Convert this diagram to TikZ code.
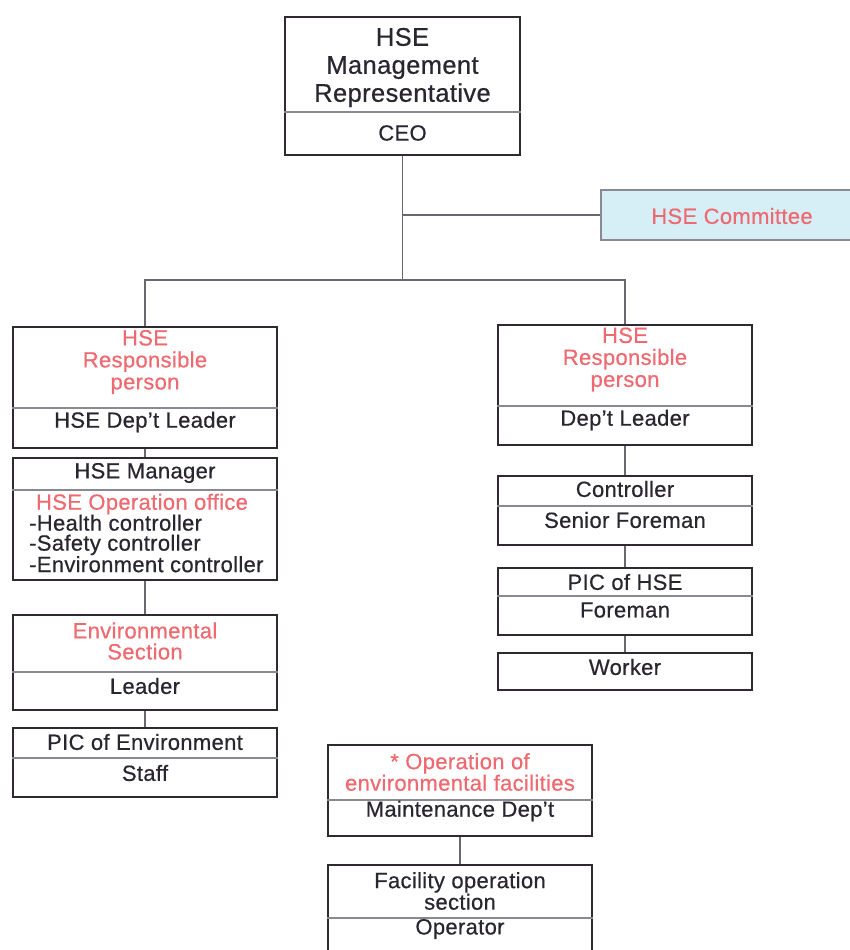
\documentclass[tikz,border=0pt]{standalone}
\usepackage{fontspec}
\setmainfont{Liberation Sans}[LetterSpace=1.5,FakeBold=0.5]
\begin{document}
\begin{tikzpicture}[x=1pt,y=-1pt,
  box/.style={draw=boxline,line width=2.8pt,rectangle,inner sep=0pt},
  div/.style={draw=divline,line width=1.2pt},
  link/.style={draw=linkgray,line width=1.4pt},
  txt/.style={text=ink,inner sep=0pt,align=center,font=\fontsize{22}{22}\selectfont},
  big/.style={text=ink,inner sep=0pt,align=center,font=\fontsize{25.5}{28}\selectfont},
  red/.style={txt,text=hsered}]
\definecolor{boxline}{HTML}{2E2A30}
\definecolor{divline}{HTML}{8A8890}
\definecolor{linkgray}{HTML}{6A686E}
\definecolor{ink}{HTML}{2A2630}
\definecolor{hsered}{HTML}{EE6A70}
\definecolor{comfill}{HTML}{D6EEF6}
\useasboundingbox (0,0) rectangle (849,950);
\fill[white] (0,0) rectangle (849,950);

% top box
\node[box,minimum width=235pt,minimum height=138pt] (top) at (402.5,86) {};
\draw[div] (top.west |- 0,112) -- (top.east |- 0,112);
\node[big] (topT) at (402.5,67.5) {HSE\\Management\\Representative};
\node[big,font=\fontsize{22}{22}\selectfont] (topB) at (402.5,133) {CEO};

% committee
\node[box,line width=1.8pt,draw=divline,fill=comfill,minimum width=262pt,minimum height=50pt] (com) at (732,215) {};
\node[red] (comT) at (732,216) {HSE Committee};

% left branch
\node[box,minimum width=264pt,minimum height=121pt] (L1) at (145,387.5) {};
\draw[div] (L1.west |- 0,408) -- (L1.east |- 0,408);
\node[red] (L1T) at (145,362) {HSE\\Responsible\\person};
\node[txt] (L1B) at (145,422) {HSE Dep't Leader};

\node[box,minimum width=264pt,minimum height=122pt] (L2) at (145,519) {};
\draw[div] (L2.west |- 0,490) -- (L2.east |- 0,490);
\node[txt] (L2T) at (145,473) {HSE Manager};
\node[red] (L2R) at (142,504) {HSE Operation office};
\node[txt,align=left,anchor=west,font=\fontsize{22}{20}\selectfont] (L2L) at (29,543.5) {-Health controller\\-Safety controller\\-Environment controller};

\node[box,minimum width=264pt,minimum height=95pt] (L3) at (145,662.5) {};
\draw[div] (L3.west |- 0,672) -- (L3.east |- 0,672);
\node[red,font=\fontsize{22}{21}\selectfont] (L3T) at (145,641) {Environmental\\Section};
\node[txt] (L3B) at (145,686) {Leader};

\node[box,minimum width=264pt,minimum height=69pt] (L4) at (145,762.5) {};
\draw[div] (L4.west |- 0,758) -- (L4.east |- 0,758);
\node[txt] (L4T) at (145,742) {PIC of Environment};
\node[txt] (L4B) at (145,773) {Staff};

% right branch
\node[box,minimum width=254pt,minimum height=120pt] (R1) at (625,385) {};
\draw[div] (R1.west |- 0,406) -- (R1.east |- 0,406);
\node[red] (R1T) at (625,359.5) {HSE\\Responsible\\person};
\node[txt] (R1B) at (625,420) {Dep't Leader};

\node[box,minimum width=254pt,minimum height=69pt] (R2) at (625,510.5) {};
\draw[div] (R2.west |- 0,506) -- (R2.east |- 0,506);
\node[txt] (R2T) at (625,489) {Controller};
\node[txt] (R2B) at (625,520) {Senior Foreman};

\node[box,minimum width=254pt,minimum height=67pt] (R3) at (625,601.5) {};
\draw[div] (R3.west |- 0,596) -- (R3.east |- 0,596);
\node[txt] (R3T) at (625,582) {PIC of HSE};
\node[txt] (R3B) at (625,610) {Foreman};

\node[box,minimum width=254pt,minimum height=37pt] (R4) at (625,671.5) {};
\node[txt] (R4T) at (625,667) {Worker};

% maintenance branch
\node[box,minimum width=264pt,minimum height=91pt] (B1) at (460,790.5) {};
\draw[div] (B1.west |- 0,800) -- (B1.east |- 0,800);
\node[red,font=\fontsize{22}{20}\selectfont] (B1T) at (460,772) {* Operation of\\environmental facilities};
\node[txt] (B1B) at (460,811) {Maintenance Dep't};

\node[box,minimum width=264pt,minimum height=100pt] (B2) at (460,915) {};
\draw[div] (B2.west |- 0,918) -- (B2.east |- 0,918);
\node[txt,font=\fontsize{22}{20}\selectfont] (B2T) at (460,891) {Facility operation\\section};
\node[txt] (B2B) at (460,929) {Operator};

% connectors
\coordinate (hub) at (402.5,280);
\draw[link] (top.south) -- (hub);
\draw[link] (top.south |- com.west) -- (com.west);
\draw[link] (L1.north) |- (hub) -| (R1.north);
\draw[link] (L1.south) -- (L2.north);
\draw[link] (L2.south) -- (L3.north);
\draw[link] (L3.south) -- (L4.north);
\draw[link] (R1.south) -- (R2.north);
\draw[link] (R2.south) -- (R3.north);
\draw[link] (R3.south) -- (R4.north);
\draw[link] (B1.south) -- (B2.north);
\end{tikzpicture}
\end{document}
